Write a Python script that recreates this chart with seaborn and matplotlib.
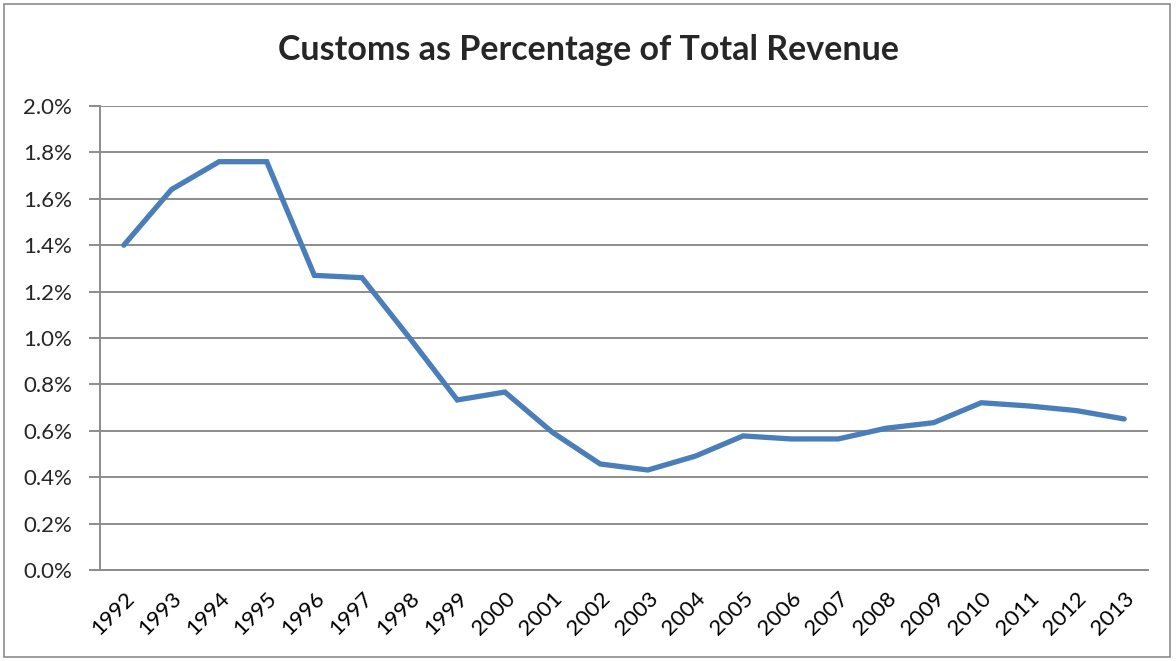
import matplotlib
matplotlib.use("Agg")
import matplotlib.pyplot as plt
import matplotlib.patches as mpatches
from matplotlib.ticker import FixedLocator, FuncFormatter
import seaborn as sns
import pandas as pd

years = [str(y) for y in range(1992, 2014)]
customs_pct = [1.40, 1.64, 1.76, 1.76, 1.27, 1.26, 1.00, 0.733, 0.767, 0.593, 0.457,
               0.431, 0.491, 0.578, 0.565, 0.565, 0.611, 0.635, 0.721, 0.707, 0.687, 0.651]
y_ticks = [0.0, 0.2, 0.4, 0.6, 0.8, 1.0, 1.2, 1.4, 1.6, 1.8, 2.0]

df = pd.DataFrame({"year": years, "pct": customs_pct})

sns.set_style("white")
plt.rcParams["font.family"] = ["Lato", "DejaVu Sans"]

fig = plt.figure(figsize=(11.76, 6.61), dpi=100)
ax = fig.add_axes([100 / 1176, 1 - 570 / 661, 1048 / 1176, 464 / 661])

sns.lineplot(data=df, x="year", y="pct", ax=ax, color="#4A7EBB", linewidth=3.8,
             sort=False, solid_capstyle="round", solid_joinstyle="miter")

grid_c = "#8C8C8C"
ax.set_xlim(-0.5, len(years) - 0.5)
ax.set_ylim(0, 2.0)
ax.yaxis.set_major_locator(FixedLocator(y_ticks))
ax.yaxis.set_major_formatter(FuncFormatter(lambda v, p: f"{v:.1f}%"))
ax.grid(axis="y", color=grid_c, linewidth=1.4)
ax.set_axisbelow(True)

ax.set_xticks(range(len(years)))
ax.set_xticklabels(years, rotation=45, ha="right", rotation_mode="anchor")
ax.set_xticks([i - 0.5 for i in range(len(years) + 1)], minor=True)
ax.tick_params(axis="x", which="major", length=0, pad=13, labelsize=16, colors="black")
ax.tick_params(axis="x", which="minor", length=7, width=1.4, color=grid_c, direction="out")
ax.tick_params(axis="y", length=8, width=1.4, color=grid_c, pad=12, labelsize=16,
               direction="out", left=True)

for side in ["top", "right"]:
    ax.spines[side].set_visible(False)
for side in ["left", "bottom"]:
    ax.spines[side].set_color(grid_c)
    ax.spines[side].set_linewidth(1.4)

ax.set_xlabel("")
ax.set_ylabel("")

fig.text(0.5, 1 - 50 / 661, "Customs as Percentage of Total Revenue",
         ha="center", va="center", fontsize=24.5, fontweight="bold")

fig.patches.append(mpatches.Rectangle((4 / 1176, 4 / 661), 1166 / 1176, 653 / 661,
                                      transform=fig.transFigure, fill=False,
                                      edgecolor="#8C8C8C", linewidth=1.2))

fig.savefig("out.png", dpi=100)
